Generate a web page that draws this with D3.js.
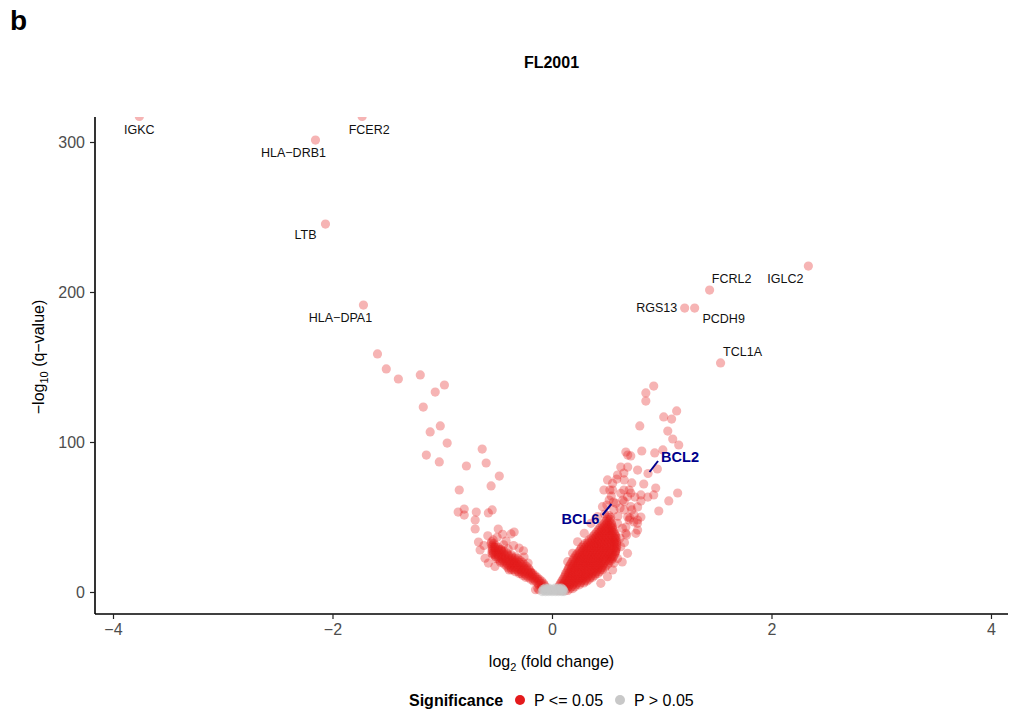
<!DOCTYPE html>
<html>
<head>
<meta charset="utf-8">
<script src="https://cdn.jsdelivr.net/npm/d3@7"></script>
<style>
  body { margin: 0; background: #fff; }
  svg { display: block; }
  text { font-family: "Liberation Sans", Arial, Helvetica, sans-serif; }
</style>
</head>
<body>
<svg id="chart" width="1010" height="715"></svg>
<script>
// ---- data -------------------------------------------------------------
// named genes: log2 fold change and -log10 q
const geneNames = ["IGKC", "FCER2", "HLA\u2212DRB1", "LTB", "HLA\u2212DPA1",
                   "FCRL2", "IGLC2", "RGS13", "PCDH9", "TCL1A"];
const geneFC = [-3.76, -1.73, -2.155, -2.064, -1.718, 1.436, 2.336, 1.209, 1.30, 1.536];
const geneQ  = [317, 317, 301.3, 245.3, 191.3, 201.3, 217.3, 189.3, 189.3, 152.7];

// highlighted genes
const highlightNames = ["BCL6", "BCL2"];
const highlightFC = [0.56, 0.875];
const highlightQ  = [60, 79];

// scattered significant genes [log2FC, -log10 q]
const downScattered = [
  [-1.59,158.7],[-1.51,148.7],[-1.40,142],[-1.20,144.7],[-0.98,138],[-1.064,133.3],
  [-1.173,123.3],[-1.018,110.7],[-1.11,106.7],[-0.955,99.3],[-1.145,91.3],[-1.027,86.7],
  [-0.636,95.3],[-0.60,86],[-0.78,84],[-0.48,77.3],[-0.555,70.7],[-0.845,68],
  [-0.80,55.3],[-0.855,53.3],[-0.80,51.3],[-0.69,53.3],[-0.545,54.7],[-0.58,52.7],
  [-0.70,48],[-0.70,42],[-0.49,42],[-0.345,40],[-0.373,38.7],
  [-0.67,33.3],[-0.536,34.7],[-0.655,28],[-0.418,34],[-0.527,30],[-0.30,29.3],
  [-0.40,28.7],[-0.58,19.3],[-0.548,25.8],[-0.464,28],[-0.255,23.3],[-0.218,19.3],
  [-0.345,19.3],[-0.39,14.7],[-0.28,14.7],[-0.61,22.5],[-0.50,36.5],[-0.44,31.5],
  [-0.35,31],[-0.52,17],[-0.62,31],[-0.585,37.5],[-0.45,38.5],[-0.26,27.5],[-0.19,13]
];
const upScattered = [
  [0.927,137.3],[0.855,132.7],[0.855,127.3],[1.136,120.7],[1.018,116.7],[1.09,115.3],
  [0.80,110.7],[1.055,107.3],[1.10,102],[1.155,98],[1.01,94.7],[0.936,92.7],
  [0.818,94],[0.673,93.3],[0.69,91.3],[0.718,90.7],[0.78,81.3],[0.96,82],
  [0.836,72],[0.945,69.3],[0.873,63.3],[1.145,66],[1.064,60.7],[0.973,54],
  [0.627,83.3],[0.69,83.3],[0.59,75.3],[0.655,79.3],[0.727,72.7],[0.527,68],
  [0.655,68],[0.718,66],[0.645,61.3],[0.81,60.7],[0.78,56.7],[0.727,54.7],
  [0.564,54.7],[0.71,49.3],[0.78,48],[0.78,41.3],[0.68,38],[0.927,64.7],
  [0.81,64.7],[0.755,63.3],[0.69,50],[0.81,50],[0.745,46.7],[0.673,43.3],[0.564,19.3],
  [0.597,78],[0.552,72.4],[0.658,74.7],[0.703,68],[0.627,65.8],[0.552,68],
  [0.521,61.3],[0.582,59.1],[0.658,60.2],[0.718,56.9],[0.658,54.7],[0.748,51.3],
  [0.703,48],[0.779,45.8],[0.673,39.1],[0.764,39.1],[0.627,30.2],[0.688,25.8],
  [0.597,22.4],[0.552,14.7],[0.506,10.2],[0.445,5.8],[0.564,33.5],[0.642,42.5],
  [0.597,45.8],[0.688,63.5],[0.473,68],[0.506,74.7],[0.46,56.9],[0.415,50.2],
  [0.355,45.8],[0.294,39.1],[0.233,33.5],[0.188,25.8],[0.143,20.2],[0.60,50.5],
  [0.62,36],[0.66,33],[0.58,27],[0.64,20],[0.50,58],[0.54,64],[0.62,56],[0.48,52]
];

// densely packed significant genes, grouped by -log10 q: [q, [log2FC ...]]
const upRows = [
  [1.0,  [0.06,0.09,0.12,0.145]],
  [2.25, [0.075,0.105,0.135,0.165,0.19]],
  [3.5,  [0.06,0.09,0.12,0.15,0.18,0.21]],
  [4.75, [0.07,0.10,0.13,0.16,0.19,0.22,0.25]],
  [6.0,  [0.08,0.11,0.14,0.17,0.20,0.23,0.26,0.29]],
  [7.25, [0.09,0.12,0.15,0.18,0.21,0.24,0.27,0.30,0.32]],
  [8.5,  [0.10,0.13,0.16,0.19,0.22,0.25,0.28,0.31,0.34]],
  [9.75, [0.11,0.14,0.17,0.20,0.23,0.26,0.29,0.32,0.35,0.37]],
  [11.0, [0.12,0.15,0.18,0.21,0.24,0.27,0.30,0.33,0.36,0.39]],
  [12.25,[0.125,0.155,0.185,0.215,0.245,0.275,0.305,0.335,0.365,0.395,0.42]],
  [13.5, [0.135,0.165,0.195,0.225,0.255,0.285,0.315,0.345,0.375,0.405,0.435]],
  [14.75,[0.145,0.175,0.205,0.235,0.265,0.295,0.325,0.355,0.385,0.415,0.445,0.46]],
  [16.0, [0.15,0.18,0.21,0.24,0.27,0.30,0.33,0.36,0.39,0.42,0.45,0.48]],
  [17.25,[0.16,0.19,0.22,0.25,0.28,0.31,0.34,0.37,0.40,0.43,0.46,0.49]],
  [18.5, [0.17,0.20,0.23,0.26,0.29,0.32,0.35,0.38,0.41,0.44,0.47,0.51]],
  [19.75,[0.18,0.21,0.24,0.27,0.30,0.33,0.36,0.39,0.42,0.45,0.48,0.52]],
  [21.0, [0.19,0.22,0.25,0.28,0.31,0.34,0.37,0.40,0.43,0.46,0.49,0.52,0.54]],
  [22.25,[0.20,0.23,0.26,0.29,0.32,0.35,0.38,0.41,0.44,0.47,0.50,0.53,0.55]],
  [23.5, [0.21,0.24,0.27,0.30,0.33,0.36,0.39,0.42,0.45,0.48,0.51,0.54,0.56]],
  [24.75,[0.22,0.25,0.28,0.31,0.34,0.37,0.40,0.43,0.46,0.49,0.52,0.55,0.57]],
  [26.0, [0.235,0.265,0.295,0.325,0.355,0.385,0.415,0.445,0.475,0.505,0.535,0.575]],
  [27.25,[0.25,0.28,0.31,0.34,0.37,0.40,0.43,0.46,0.49,0.52,0.55,0.58]],
  [28.5, [0.26,0.29,0.32,0.35,0.38,0.41,0.44,0.47,0.50,0.53,0.56,0.585]],
  [29.75,[0.27,0.30,0.33,0.36,0.39,0.42,0.45,0.48,0.51,0.54,0.57,0.59]],
  [31.0, [0.285,0.315,0.345,0.375,0.405,0.435,0.465,0.495,0.525,0.555,0.59]],
  [32.25,[0.30,0.33,0.36,0.39,0.42,0.45,0.48,0.51,0.54,0.57,0.59]],
  [33.5, [0.325,0.355,0.385,0.415,0.445,0.475,0.505,0.535,0.565,0.59]],
  [34.75,[0.34,0.37,0.40,0.43,0.46,0.49,0.52,0.55,0.58]],
  [36.0, [0.36,0.39,0.42,0.45,0.48,0.51,0.54,0.57,0.585]],
  [37.25,[0.375,0.405,0.435,0.465,0.495,0.525,0.555,0.58]],
  [38.5, [0.39,0.42,0.45,0.48,0.51,0.54,0.575]],
  [39.75,[0.405,0.435,0.465,0.495,0.525,0.555,0.57]],
  [41.0, [0.42,0.45,0.48,0.51,0.54,0.56]],
  [42.25,[0.43,0.46,0.49,0.52,0.55]],
  [43.5, [0.445,0.475,0.505,0.535,0.55]],
  [44.75,[0.46,0.49,0.52,0.545]],
  [46.0, [0.475,0.505,0.54]],
  [47.25,[0.49,0.52]],
  [48.5, [0.50,0.53]],
  [49.75,[0.51,0.535]],
  [51.0, [0.52]]
];
const downRows = [
  [1.5,  [-0.12,-0.15]],
  [2.5,  [-0.10,-0.13]],
  [3.5,  [-0.06,-0.09]],
  [4.75, [-0.07,-0.10,-0.12]],
  [6.0,  [-0.08,-0.10,-0.13]],
  [7.25, [-0.095,-0.12,-0.15,-0.17]],
  [8.5,  [-0.115,-0.135,-0.165,-0.195]],
  [9.75, [-0.135,-0.155,-0.185,-0.215,-0.24]],
  [11.0, [-0.155,-0.175,-0.205,-0.235,-0.265]],
  [12.25,[-0.175,-0.19,-0.22,-0.25,-0.28,-0.30]],
  [13.5, [-0.195,-0.215,-0.245,-0.275,-0.305,-0.335]],
  [14.75,[-0.205,-0.23,-0.26,-0.29,-0.32,-0.35,-0.37]],
  [16.0, [-0.215,-0.25,-0.28,-0.31,-0.34,-0.37,-0.40]],
  [17.25,[-0.235,-0.265,-0.295,-0.325,-0.355,-0.385,-0.415]],
  [18.5, [-0.255,-0.285,-0.315,-0.345,-0.375,-0.405,-0.435]],
  [19.75,[-0.27,-0.30,-0.33,-0.36,-0.39,-0.42,-0.45,-0.47]],
  [21.0, [-0.29,-0.325,-0.355,-0.385,-0.415,-0.445,-0.475]],
  [22.25,[-0.31,-0.34,-0.37,-0.40,-0.43,-0.46,-0.49,-0.51]],
  [23.5, [-0.33,-0.365,-0.395,-0.425,-0.455,-0.485,-0.515]],
  [24.75,[-0.37,-0.40,-0.43,-0.46,-0.49,-0.52,-0.54]],
  [26.0, [-0.41,-0.445,-0.475,-0.505,-0.535]],
  [27.25,[-0.44,-0.46,-0.49,-0.52,-0.545]],
  [28.5, [-0.465,-0.485,-0.515,-0.545]],
  [29.75,[-0.49,-0.52,-0.545]],
  [31.0, [-0.515,-0.545]],
  [32.25,[-0.53,-0.555]],
  [33.5, [-0.55]]
];

// non-significant genes
const nsGenes = [
  [-0.09,0.3],[-0.06,0.3],[-0.03,0.3],[0.0,0.3],[0.03,0.3],[0.06,0.3],[0.09,0.3],[0.11,0.3],
  [-0.075,1.0],[-0.045,1.0],[-0.015,1.0],[0.015,1.0],[0.045,1.0],[0.075,1.0],[0.10,1.0],
  [-0.08,1.8],[-0.05,1.8],[-0.02,1.8],[0.01,1.8],[0.04,1.8],[0.07,1.8],[0.10,1.8],
  [-0.06,2.6],[-0.03,2.6],[0.03,2.6],[0.06,2.6],[0.085,2.6]
];

const xTicks = [-4, -2, 0, 2, 4];
const yTicks = [0, 100, 200, 300];
const legendLabels = ["P <= 0.05", "P > 0.05"];

// ---- layout -----------------------------------------------------------
const geneLabelOffsets = [[0,13],[7,13],[-22,13],[-20,11],[-23,13],[22,-11],[-23,13],[-28,0],[29,11],[22,-11]];
const highlightLabelOffsets = [[-33,17],[32,-16.5]];
const highlightSegments = [[[-11,13],[-2,2]], [[10,-12.5],[1.5,-1.5]]];

const panel = { left: 95, right: 1008, top: 117, bottom: 614 };
const RED = "#E41A1C", GREY = "#C8C8C8", ALPHA = 0.33, R = 4.6;

const svg = d3.select("#chart");
const x = d3.scaleLinear().domain([-4.164, 4.155]).range([panel.left, panel.right]);
const y = d3.scaleLinear().domain([-14.67, 316.67]).range([panel.bottom, panel.top]);

svg.append("defs").append("clipPath").attr("id", "panelClip")
  .append("rect")
  .attr("x", panel.left).attr("y", panel.top)
  .attr("width", panel.right - panel.left).attr("height", panel.bottom - panel.top);

// assemble significant points
const sigPoints = [];
downScattered.forEach(d => sigPoints.push(d));
upScattered.forEach(d => sigPoints.push(d));
downRows.forEach(([q, xs]) => xs.forEach(fc => sigPoints.push([fc, q])));
upRows.forEach(([q, xs]) => xs.forEach(fc => sigPoints.push([fc, q])));
geneFC.forEach((fc, i) => sigPoints.push([fc, geneQ[i]]));
highlightFC.forEach((fc, i) => sigPoints.push([fc, highlightQ[i]]));

const plot = svg.append("g").attr("clip-path", "url(#panelClip)");
plot.selectAll("circle.sig").data(sigPoints).join("circle")
  .attr("class", "sig")
  .attr("cx", d => x(d[0])).attr("cy", d => y(d[1])).attr("r", R)
  .attr("fill", RED).attr("fill-opacity", ALPHA);
plot.selectAll("circle.ns").data(nsGenes).join("circle")
  .attr("class", "ns")
  .attr("cx", d => x(d[0])).attr("cy", d => y(d[1])).attr("r", R)
  .attr("fill", GREY).attr("fill-opacity", 0.6);

// gene labels
const labels = svg.append("g");
geneNames.forEach((name, i) => {
  labels.append("text")
    .attr("x", x(geneFC[i]) + geneLabelOffsets[i][0])
    .attr("y", y(geneQ[i]) + geneLabelOffsets[i][1])
    .attr("text-anchor", "middle").attr("dominant-baseline", "central")
    .attr("font-size", 12.5).attr("fill", "#111")
    .text(name);
});
highlightNames.forEach((name, i) => {
  const px = x(highlightFC[i]), py = y(highlightQ[i]);
  const seg = highlightSegments[i];
  labels.append("line")
    .attr("x1", px + seg[0][0]).attr("y1", py + seg[0][1])
    .attr("x2", px + seg[1][0]).attr("y2", py + seg[1][1])
    .attr("stroke", "#00008B").attr("stroke-width", 2);
  labels.append("text")
    .attr("x", px + highlightLabelOffsets[i][0])
    .attr("y", py + highlightLabelOffsets[i][1])
    .attr("text-anchor", "middle").attr("dominant-baseline", "central")
    .attr("font-size", 14.5).attr("font-weight", "bold").attr("fill", "#00008B")
    .text(name);
});

// axes
const fmt = d => d < 0 ? "\u2212" + Math.abs(d) : String(d);
const xAxis = svg.append("g").attr("transform", `translate(0,${panel.bottom})`)
  .call(d3.axisBottom(x).tickValues(xTicks).tickFormat(fmt).tickSize(5).tickPadding(5));
const yAxis = svg.append("g").attr("transform", `translate(${panel.left},0)`)
  .call(d3.axisLeft(y).tickValues(yTicks).tickFormat(fmt).tickSize(5).tickPadding(5));
[xAxis, yAxis].forEach(g => {
  g.select(".domain").attr("stroke", "#000").attr("stroke-width", 1.6);
  g.selectAll(".tick line").attr("stroke", "#222").attr("stroke-width", 1.2);
  g.selectAll(".tick text").attr("fill", "#4D4D4D").attr("font-size", 16)
    .attr("font-family", "'Liberation Sans', Arial, sans-serif");
});
// axis lines span the full panel
xAxis.select(".domain").attr("d", `M${panel.left},0H${panel.right}`);
yAxis.select(".domain").attr("d", `M0,${panel.top}V${panel.bottom}`);

// axis titles
const xt = svg.append("text").attr("x", (panel.left + panel.right) / 2).attr("y", 667)
  .attr("text-anchor", "middle").attr("font-size", 16).attr("fill", "#000");
xt.append("tspan").text("log");
xt.append("tspan").attr("font-size", 11).attr("dy", 4).text("2");
xt.append("tspan").attr("dy", -4).text(" (fold change)");

const yt = svg.append("text").attr("transform", "translate(44,357) rotate(-90)")
  .attr("text-anchor", "middle").attr("font-size", 16).attr("fill", "#000");
yt.append("tspan").text("\u2212log");
yt.append("tspan").attr("font-size", 11).attr("dy", 4).text("10");
yt.append("tspan").attr("dy", -4).text(" (q\u2212value)");

// title and panel tag
svg.append("text").attr("x", (panel.left + panel.right) / 2).attr("y", 68)
  .attr("text-anchor", "middle").attr("font-size", 16).attr("font-weight", "bold")
  .text("FL2001");
svg.append("text").attr("x", 10).attr("y", 30)
  .attr("font-size", 28).attr("font-weight", "bold").text("b");

// legend
const lg = svg.append("g");
lg.append("text").attr("x", 409).attr("y", 706).attr("font-size", 16)
  .attr("font-weight", "bold").text("Significance");
const legendColors = [RED, GREY];
const legendX = [520, 620];
legendLabels.forEach((lab, i) => {
  lg.append("circle").attr("cx", legendX[i]).attr("cy", 700).attr("r", 5)
    .attr("fill", legendColors[i]);
  lg.append("text").attr("x", legendX[i] + 14).attr("y", 706).attr("font-size", 16)
    .text(lab);
});
</script>
</body>
</html>
